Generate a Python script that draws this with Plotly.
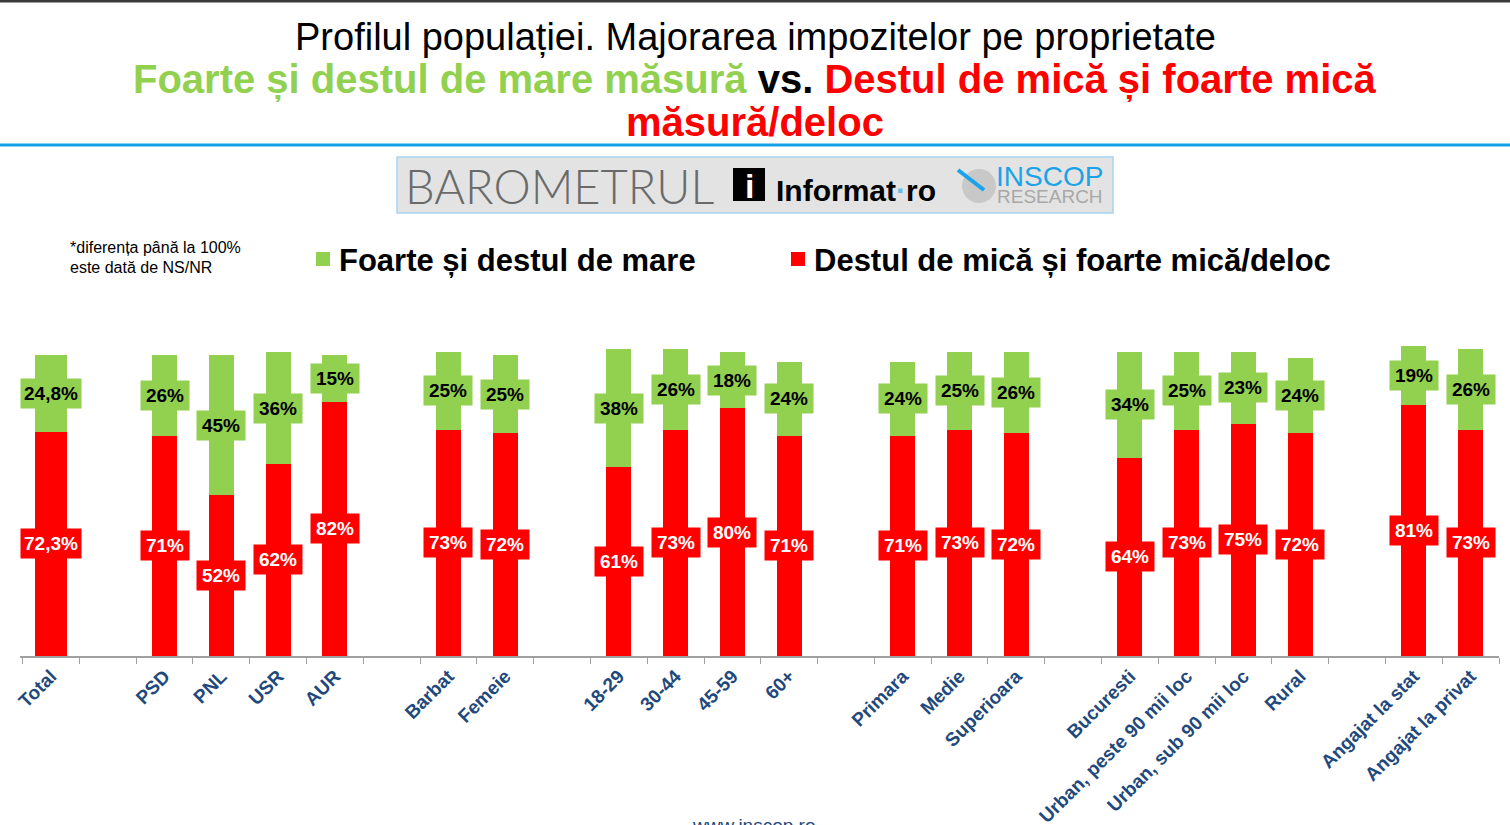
import plotly.graph_objects as go

# ---------------- data ----------------
categories = ["Total", None, "PSD", "PNL", "USR", "AUR", None, "Barbat", "Femeie", None,
              "18-29", "30-44", "45-59", "60+", None, "Primara", "Medie", "Superioara", None,
              "Bucuresti", "Urban, peste 90 mii loc", "Urban, sub 90 mii loc", "Rural", None,
              "Angajat la stat", "Angajat la privat"]
mica = [72.3, None, 71, 52, 62, 82, None, 73, 72, None,
        61, 73, 80, 71, None, 71, 73, 72, None,
        64, 73, 75, 72, None, 81, 73]
mare = [24.8, None, 26, 45, 36, 15, None, 25, 25, None,
        38, 26, 18, 24, None, 24, 25, 26, None,
        34, 25, 23, 24, None, 19, 26]

GREEN = "#92D050"
RED = "#FF0000"
FONT = "Liberation Sans"
W, H = 1510, 825
ML, MR, MT, MB = 20, 11, 346, 169
PW, PH = W - ML - MR, H - MT - MB

# unique names for spacer slots
xcats = []
k = 1
for c in categories:
    if c is None:
        xcats.append(" " * k)
        k += 1
    else:
        xcats.append(c)

widths = [0.58 if c == "Total" else 0.44 for c in categories]


def fmt(v):
    if v is None:
        return ""
    if float(v).is_integer():
        return f"{int(v)}%"
    return f"{v:.1f}".replace(".", ",") + "%"


def px(x):
    return (x - ML) / PW


def py(y):
    return (H - MB - y) / PH


fig = go.Figure()
fig.add_bar(x=xcats, y=mica, width=widths, marker=dict(color=RED, line=dict(width=0)),
            name="Destul de mică și foarte mică/deloc", hoverinfo="skip")
fig.add_bar(x=xcats, y=mare, width=widths, marker=dict(color=GREEN, line=dict(width=0)),
            name="Foarte și destul de mare", hoverinfo="skip")

ann = []
for c, r, g in zip(xcats, mica, mare):
    if r is None:
        continue
    bw = 56 if c == "Total" else 44
    ann.append(dict(x=c, y=r / 2, xref="x", yref="y", text=f"<b>{fmt(r)}</b>", showarrow=False,
                    font=dict(family=FONT, size=19, color="white"), bgcolor=RED,
                    width=bw, height=25, borderpad=2, align="center"))
    ann.append(dict(x=c, y=r + g / 2, xref="x", yref="y", text=f"<b>{fmt(g)}</b>", showarrow=False,
                    font=dict(family=FONT, size=19, color="black"), bgcolor=GREEN,
                    width=bw, height=25, borderpad=2, align="center"))

# titles
ann.append(dict(x=px(755), y=py(37), xref="paper", yref="paper", showarrow=False,
                text="Profilul populației. Majorarea impozitelor pe proprietate",
                font=dict(family=FONT, size=38, color="black"), xanchor="center", yanchor="middle"))
ann.append(dict(x=px(755), y=py(79), xref="paper", yref="paper", showarrow=False,
                text=f"<b><span style='color:{GREEN}'>Foarte și destul de mare măsură</span> vs. "
                     f"<span style='color:{RED}'>Destul de mică și foarte mică</span></b>",
                font=dict(family=FONT, size=40, color="black"), xanchor="center", yanchor="middle"))
ann.append(dict(x=px(755), y=py(122), xref="paper", yref="paper", showarrow=False,
                text="<b>măsură/deloc</b>",
                font=dict(family=FONT, size=40, color=RED), xanchor="center", yanchor="middle"))

# note
ann.append(dict(x=px(68), y=py(247), xref="paper", yref="paper", showarrow=False,
                text="*diferența până la 100%", font=dict(family=FONT, size=16, color="black"),
                xanchor="left", yanchor="middle"))
ann.append(dict(x=px(68), y=py(267), xref="paper", yref="paper", showarrow=False,
                text="este dată de NS/NR", font=dict(family=FONT, size=16, color="black"),
                xanchor="left", yanchor="middle"))

# legend texts
ann.append(dict(x=px(337), y=py(260), xref="paper", yref="paper", showarrow=False,
                text="<b>Foarte și destul de mare</b>", font=dict(family=FONT, size=31, color="black"),
                xanchor="left", yanchor="middle"))
ann.append(dict(x=px(812), y=py(260), xref="paper", yref="paper", showarrow=False,
                text="<b>Destul de mică și foarte mică/deloc</b>", font=dict(family=FONT, size=31, color="black"),
                xanchor="left", yanchor="middle"))

# logo texts
ann.append(dict(x=px(403), y=py(186), xref="paper", yref="paper", showarrow=False,
                text="BAROMETRUL", font=dict(family="Lato", size=47, color="#6a6a6a", weight=300),
                xanchor="left", yanchor="middle"))
ann.append(dict(x=px(749), y=py(186), xref="paper", yref="paper", showarrow=False,
                text="<b>i</b>", font=dict(family=FONT, size=34, color="white"),
                xanchor="center", yanchor="middle"))
ann.append(dict(x=px(774), y=py(190), xref="paper", yref="paper", showarrow=False,
                text="<b>Informat<span style='color:#5bc0eb'>·</span>ro</b>",
                font=dict(family=FONT, size=30, color="black"),
                xanchor="left", yanchor="middle"))
ann.append(dict(x=px(994), y=py(176), xref="paper", yref="paper", showarrow=False,
                text="INSCOP", font=dict(family=FONT, size=28, color="#1AA3E8"),
                xanchor="left", yanchor="middle"))
ann.append(dict(x=px(995), y=py(197), xref="paper", yref="paper", showarrow=False,
                text="RESEARCH", font=dict(family=FONT, size=19, color="#a8a8a8"),
                xanchor="left", yanchor="middle"))

# footer (cut by the page edge, as in the reference)
ann.append(dict(x=px(754), y=py(813), xref="paper", yref="paper", showarrow=False,
                text="www.inscop.ro", font=dict(family=FONT, size=19, color="#1F497D"),
                xanchor="center", yanchor="top"))

shapes = [
    dict(type="line", xref="paper", yref="paper", x0=px(0), x1=px(W), y0=py(1), y1=py(1),
         line=dict(color="#3a3a3a", width=3)),
    dict(type="line", xref="paper", yref="paper", x0=px(0), x1=px(W), y0=py(145), y1=py(145),
         line=dict(color="#14A0E6", width=3)),
    dict(type="rect", xref="paper", yref="paper", x0=px(397), x1=px(1113), y0=py(157), y1=py(213),
         fillcolor="#e3e3e3", line=dict(color="#a6d6ef", width=1.5), layer="below"),
    dict(type="rect", xref="paper", yref="paper", x0=px(733), x1=px(765), y0=py(168), y1=py(201),
         fillcolor="black", line=dict(width=0)),
    dict(type="circle", xref="paper", yref="paper", x0=px(962), x1=px(996), y0=py(169), y1=py(203),
         fillcolor="#c8c8c8", line=dict(width=0)),
    dict(type="line", xref="paper", yref="paper", x0=px(958), x1=px(984), y0=py(170), y1=py(190),
         line=dict(color="#1AA3E8", width=4)),
    dict(type="rect", xref="paper", yref="paper", x0=px(316), x1=px(330), y0=py(252), y1=py(266),
         fillcolor=GREEN, line=dict(width=0)),
    dict(type="rect", xref="paper", yref="paper", x0=px(791), x1=px(805), y0=py(252), y1=py(266),
         fillcolor=RED, line=dict(width=0)),
]

fig.update_layout(
    width=W, height=H,
    margin=dict(l=ML, r=MR, t=MT, b=MB, pad=0, autoexpand=False),
    barmode="stack",
    showlegend=False,
    plot_bgcolor="white", paper_bgcolor="white",
    annotations=ann, shapes=shapes,
    xaxis=dict(type="category", categoryorder="array", categoryarray=xcats,
               tickangle=-45, tickson="boundaries", ticks="outside", ticklen=6,
               tickcolor="#a0a0a0", showline=True, linecolor="#a0a0a0", linewidth=1.5,
               tickfont=dict(family=FONT, size=19, color="#1F497D", weight="bold"),
               showgrid=False, fixedrange=True, automargin=False),
    yaxis=dict(range=[0, 100], visible=False, showgrid=False, fixedrange=True, automargin=False),
)

fig.write_html("out.html", config={"displayModeBar": False},
               post_script="document.body.style.margin='0';document.body.style.overflow='hidden';")
